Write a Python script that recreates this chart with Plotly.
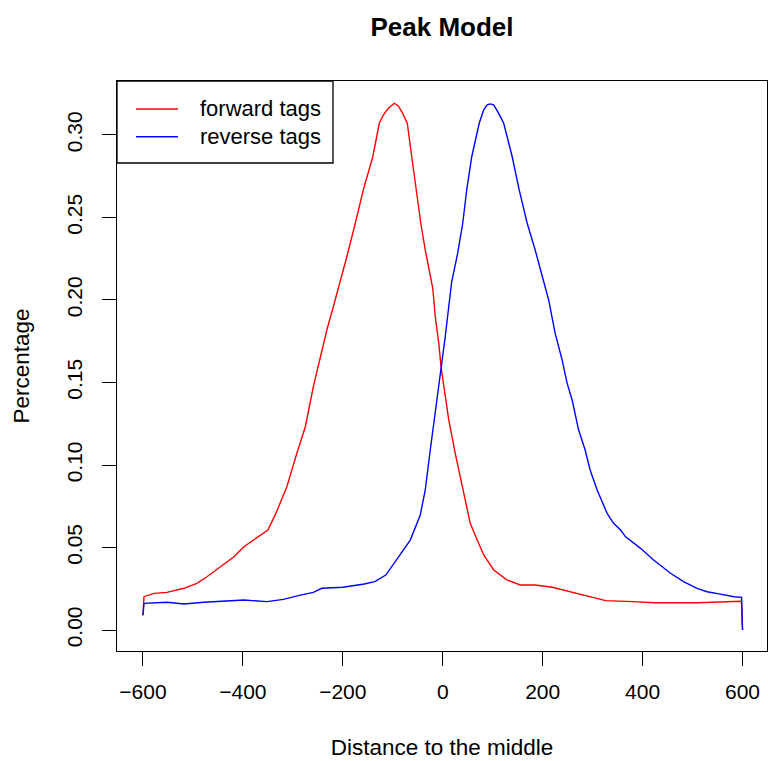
import plotly.graph_objects as go

# ---- data ----
forward_x = [-600, -598, -578, -552, -518, -492, -472, -445, -418, -398, -375, -350,
             -334, -312, -292, -275, -259, -245, -232, -219, -202, -192, -175, -159,
             -140, -127, -119, -109, -97, -89, -82, -75, -71, -62, -53, -44, -35, -28,
             -20, -15, -8, -3, 5, 12, 25, 35, 45, 55, 69, 82, 102, 129, 155, 185, 219,
             253, 287, 326, 381, 424, 509, 569, 598, 600]
forward_y = [0.0090, 0.0202, 0.0222, 0.0228, 0.0253, 0.0283, 0.0323, 0.0384, 0.0444,
             0.0505, 0.0556, 0.0606, 0.0707, 0.0868, 0.1071, 0.1232, 0.1475, 0.1656,
             0.1818, 0.1959, 0.2141, 0.2262, 0.2465, 0.2667, 0.2868, 0.3071, 0.3121,
             0.3162, 0.3192, 0.3176, 0.3141, 0.3101, 0.3071, 0.2868, 0.2667, 0.2465,
             0.2303, 0.2192, 0.2071, 0.1899, 0.1738, 0.1586, 0.1414, 0.1273, 0.1071,
             0.0929, 0.0768, 0.0647, 0.0545, 0.0455, 0.0364, 0.0303, 0.0273, 0.0273,
             0.0259, 0.0232, 0.0206, 0.0178, 0.0172, 0.0165, 0.0165, 0.0172, 0.0174,
             0.0000]

reverse_x = [-600, -598, -552, -518, -478, -432, -398, -352, -319, -285, -259, -242,
             -200, -157, -136, -114, -97, -85, -65, -45, -35, -25, -12, -2, 5, 12, 18,
             30, 40, 48, 58, 73, 82, 89, 95, 102, 112, 122, 139, 153, 169, 185, 202,
             212, 225, 239, 249, 259, 272, 285, 295, 309, 329, 342, 356, 366, 396, 422,
             456, 482, 509, 529, 556, 583, 598, 600]
reverse_y = [0.0090, 0.0162, 0.0168, 0.0158, 0.0168, 0.0178, 0.0182, 0.0172, 0.0186,
             0.0212, 0.0228, 0.0253, 0.0259, 0.0279, 0.0293, 0.0333, 0.0404, 0.0455,
             0.0545, 0.0697, 0.0850, 0.1091, 0.1394, 0.1596, 0.1778, 0.1959, 0.2111,
             0.2285, 0.2465, 0.2667, 0.2868, 0.3071, 0.3152, 0.3182, 0.3188, 0.3182,
             0.3131, 0.3071, 0.2868, 0.2667, 0.2465, 0.2303, 0.2101, 0.2000, 0.1798,
             0.1636, 0.1495, 0.1394, 0.1212, 0.1091, 0.0970, 0.0848, 0.0707, 0.0647,
             0.0606, 0.0565, 0.0495, 0.0424, 0.0344, 0.0293, 0.0253, 0.0232, 0.0218,
             0.0202, 0.0198, 0.0000]

series_names = ["forward tags", "reverse tags"]
series_colors = ["#ff0000", "#0000ff"]

x_ticks = [-600, -400, -200, 0, 200, 400, 600]
y_ticks = [0.00, 0.05, 0.10, 0.15, 0.20, 0.25, 0.30]

FONT = "Liberation Sans, Arial, Helvetica, sans-serif"

fig = go.Figure()
for xs, ys, nm, col in zip([forward_x, reverse_x], [forward_y, reverse_y],
                           series_names, series_colors):
    fig.add_trace(go.Scatter(x=xs, y=ys, mode="lines", name=nm, showlegend=False,
                             line=dict(color=col, width=1.4)))

# R-style legend box in the top-left corner of the plotting region
leg_x0, leg_x1, leg_y0, leg_y1 = 0.0, 0.3323, 0.8561, 1.0
shapes = [dict(type="rect", xref="paper", yref="paper", x0=leg_x0, x1=leg_x1,
               y0=leg_y0, y1=leg_y1, line=dict(color="black", width=1.3),
               fillcolor="white", layer="above")]
annotations = []
row_y = [0.9509, 0.9023]
for nm, col, ry in zip(series_names, series_colors, row_y):
    shapes.append(dict(type="line", xref="paper", yref="paper", x0=0.0292, x1=0.0938,
                       y0=ry, y1=ry, line=dict(color=col, width=1.4), layer="above"))
    annotations.append(dict(text=nm, xref="paper", yref="paper", x=0.1246, y=ry,
                            xanchor="left", yanchor="middle", showarrow=False,
                            font=dict(family=FONT, size=22, color="black")))

fig.update_layout(
    width=768, height=761,
    margin=dict(l=117, r=1, t=81, b=110),
    paper_bgcolor="white", plot_bgcolor="white",
    font=dict(family=FONT, size=21, color="black"),
    title=dict(text="Peak Model", x=0.5, xref="paper", y=1 - 27 / 761,
               yref="container", xanchor="center", yanchor="middle",
               font=dict(family=FONT, size=26, color="black", weight="bold")),
    showlegend=False,
    shapes=shapes,
    annotations=annotations,
)
fig.update_xaxes(range=[-652, 649], tickvals=x_ticks, ticks="outside", ticklen=14,
                 tickwidth=1, tickcolor="black", showline=True, linecolor="black",
                 linewidth=1.3, mirror=True, showgrid=False, zeroline=False,
                 title=dict(text="Distance to the middle", standoff=36,
                            font=dict(size=22.5)),
                 ticklabelstandoff=8)
fig.update_yaxes(range=[-0.0127, 0.3327], tickvals=y_ticks, tickformat=".2f",
                 ticks="outside", ticklen=14, tickwidth=1, tickcolor="black",
                 showline=True, linecolor="black", linewidth=1.3, mirror=True,
                 showgrid=False, zeroline=False, tickangle=-90,
                 title=dict(text="Percentage", standoff=27, font=dict(size=22.5)),
                 ticklabelstandoff=11)

fig.write_html("out.html",
               config={"displayModeBar": False},
               post_script="document.body.style.margin='0';"
                           "document.body.style.overflow='hidden';")
